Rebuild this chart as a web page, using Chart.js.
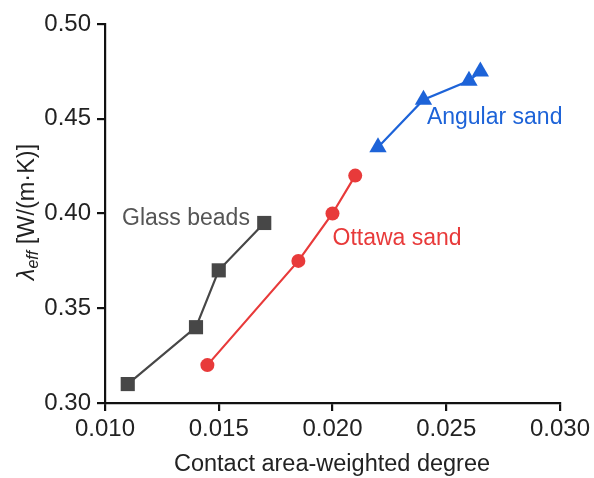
<!DOCTYPE html>
<html lang="en">
<head>
<meta charset="UTF-8" />
<title>Effective thermal conductivity</title>
<script src="https://cdn.jsdelivr.net/npm/chart.js"></script>
<style>
  html, body { margin: 0; padding: 0; background: #fff; }
  #wrap { width: 594px; height: 478px; }
</style>
</head>
<body>
<div id="wrap"><canvas id="myChart"></canvas></div>
<script>
// values
const glassX = [0.011, 0.014, 0.015, 0.017];
const glassY = [0.310, 0.340, 0.370, 0.395];
const ottawaX = [0.0145, 0.0185, 0.020, 0.021];
const ottawaY = [0.320, 0.375, 0.400, 0.420];
const angularX = [0.022, 0.024, 0.026, 0.0265];
const angularY = [0.435, 0.460, 0.470, 0.475];

const xTicks = [0.010, 0.015, 0.020, 0.025, 0.030];
const yTicks = [0.30, 0.35, 0.40, 0.45, 0.50];

const seriesNames = ['Glass beads', 'Ottawa sand', 'Angular sand'];
const seriesColors = ['#474747', '#e83a3a', '#1d63d8'];
const textColors = ['#555555', '#e83a3a', '#1d63d8'];

const FONT = '"Liberation Sans", Arial, sans-serif';

function pts(xs, ys) {
  return xs.map((x, i) => ({ x: x, y: ys[i] }));
}

// where the series names sit (data coordinates, left end of text)
const labelAnchors = [
  { x: 0.01075, y: 0.3975 },
  { x: 0.02, y: 0.3865 },
  { x: 0.02415, y: 0.4505 }
];

const labelsPlugin = {
  id: 'labels',
  afterDraw(chart) {
    const ctx = chart.ctx;
    const xs = chart.scales.x, ys = chart.scales.y;
    ctx.save();
    ctx.font = '23px ' + FONT;
    ctx.textBaseline = 'middle';
    ctx.textAlign = 'left';
    seriesNames.forEach((name, i) => {
      ctx.fillStyle = textColors[i];
      ctx.fillText(name, xs.getPixelForValue(labelAnchors[i].x), ys.getPixelForValue(labelAnchors[i].y));
    });

    // x axis title
    ctx.fillStyle = '#222';
    ctx.font = '23.5px ' + FONT;
    ctx.textAlign = 'center';
    ctx.fillText('Contact area-weighted degree', 332, 465);

    // y axis title with subscript
    ctx.translate(26, 212);
    ctx.rotate(-Math.PI / 2);
    const p1 = 'λ', p2 = 'eff', p3 = ' [W/(m·K)]';
    ctx.font = 'italic 23.5px ' + FONT;
    const w1 = ctx.measureText(p1).width;
    ctx.font = 'italic 16px ' + FONT;
    const w2 = ctx.measureText(p2).width;
    ctx.font = '23.5px ' + FONT;
    const w3 = ctx.measureText(p3).width;
    let x0 = -(w1 + w2 + w3) / 2;
    ctx.textAlign = 'left';
    ctx.textBaseline = 'alphabetic';
    ctx.font = 'italic 23.5px ' + FONT;
    ctx.fillText(p1, x0, 8);
    ctx.font = 'italic 16px ' + FONT;
    ctx.fillText(p2, x0 + w1, 12);
    ctx.font = '23.5px ' + FONT;
    ctx.fillText(p3, x0 + w1 + w2, 8);
    ctx.restore();
  }
};

const ctx = document.getElementById('myChart');
new Chart(ctx, {
  type: 'scatter',
  data: {
    datasets: [
      {
        label: seriesNames[0],
        data: pts(glassX, glassY),
        showLine: true,
        borderColor: seriesColors[0],
        backgroundColor: seriesColors[0],
        borderWidth: 2.2,
        pointStyle: 'rect',
        pointRadius: 10,
        pointBorderWidth: 0
      },
      {
        label: seriesNames[1],
        data: pts(ottawaX, ottawaY),
        showLine: true,
        borderColor: seriesColors[1],
        backgroundColor: seriesColors[1],
        borderWidth: 2.2,
        pointStyle: 'circle',
        pointRadius: 7,
        pointBorderWidth: 0
      },
      {
        label: seriesNames[2],
        data: pts(angularX, angularY),
        showLine: true,
        borderColor: seriesColors[2],
        backgroundColor: seriesColors[2],
        borderWidth: 2.2,
        pointStyle: 'triangle',
        pointRadius: 10,
        pointBorderWidth: 0
      }
    ]
  },
  options: {
    responsive: true,
    maintainAspectRatio: false,
    animation: false,
    events: [],
    layout: { padding: { top: 24, right: 34, left: 0, bottom: 0 } },
    plugins: {
      legend: { display: false },
      tooltip: { enabled: false }
    },
    scales: {
      x: {
        type: 'linear',
        min: xTicks[0],
        max: xTicks[xTicks.length - 1],
        afterBuildTicks(scale) { scale.ticks = xTicks.map(v => ({ value: v })); },
        afterFit(scale) { scale.height = 75; },
        border: { display: true, color: '#111', width: 2.2 },
        grid: { display: true, drawOnChartArea: false, drawTicks: true, tickLength: 8, color: '#111', lineWidth: 2.2 },
        ticks: {
          color: '#222',
          font: { family: FONT, size: 24 },
          padding: 4,
          maxRotation: 0,
          callback: v => v.toFixed(3)
        }
      },
      y: {
        type: 'linear',
        min: yTicks[0],
        max: yTicks[yTicks.length - 1],
        afterBuildTicks(scale) { scale.ticks = yTicks.map(v => ({ value: v })); },
        afterFit(scale) { scale.width = 105; },
        border: { display: true, color: '#111', width: 2.2 },
        grid: { display: true, drawOnChartArea: false, drawTicks: true, tickLength: 8, color: '#111', lineWidth: 2.2 },
        ticks: {
          color: '#222',
          font: { family: FONT, size: 24 },
          padding: 6,
          callback: v => v.toFixed(2)
        }
      }
    }
  },
  plugins: [labelsPlugin]
});
</script>
</body>
</html>
